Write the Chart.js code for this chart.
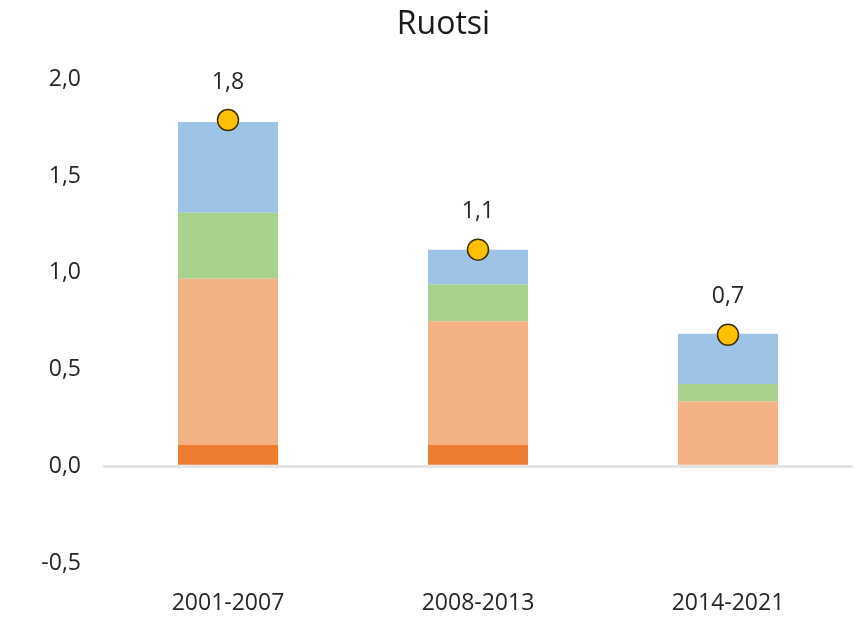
<!DOCTYPE html>
<html>
<head>
<meta charset="utf-8">
<script src="https://cdn.jsdelivr.net/npm/chart.js@4.4.1/dist/chart.umd.min.js"></script>
<style>
  html, body { margin: 0; padding: 0; background: #fff; }
  #wrap { width: 859px; height: 627px; }
</style>
</head>
<body>
<div id="wrap"><canvas id="chart" width="859" height="627"></canvas></div>
<script>
// periods and stacked components
const periods = ['2001-2007', '2008-2013', '2014-2021'];
const partA = [0.11, 0.11, 0.0];   // dark orange
const partB = [0.86, 0.64, 0.335]; // light orange
const partC = [0.34, 0.19, 0.09];  // green
const partD = [0.47, 0.18, 0.26];  // blue
const totals = [1.79, 1.12, 0.68]; // yellow dots
const yTicks = [-0.5, 0, 0.5, 1.0, 1.5, 2.0];

const fmt = v => v.toFixed(1).replace('.', ',');
const FONT = '"Open Sans", sans-serif';

// value labels above the dots
const dotLabels = {
  id: 'dotLabels',
  afterDatasetsDraw(chart) {
    const ctx = chart.ctx;
    const meta = chart.getDatasetMeta(4);
    ctx.save();
    ctx.font = '23px ' + FONT;
    ctx.fillStyle = '#262626';
    ctx.textAlign = 'center';
    ctx.textBaseline = 'middle';
    meta.data.forEach((pt, i) => {
      ctx.fillText(fmt(totals[i]), pt.x, pt.y - 38);
    });
    ctx.restore();
  }
};

const bar = (data, color) => ({
  type: 'bar',
  data: data,
  backgroundColor: color,
  borderWidth: 0,
  barPercentage: 0.4,
  categoryPercentage: 1.0,
  stack: 'parts',
  order: 1
});

new Chart(document.getElementById('chart'), {
  data: {
    labels: periods,
    datasets: [
      bar(partA, '#ED7D31'),
      bar(partB, '#F4B183'),
      bar(partC, '#A9D18E'),
      bar(partD, '#9DC3E6'),
      {
        type: 'line',
        data: totals,
        showLine: false,
        pointRadius: 10.5,
        pointBackgroundColor: '#FFC000',
        pointBorderColor: '#3b3000',
        pointBorderWidth: 1.5,
        stack: 'dots',
        order: 0
      }
    ]
  },
  options: {
    responsive: false,
    animation: false,
    layout: { autoPadding: false, padding: { left: 34, right: 6, top: 6, bottom: 0 } },
    plugins: {
      legend: { display: false },
      tooltip: { enabled: false },
      title: {
        display: true,
        text: 'Ruotsi',
        color: '#1a1a1a',
        font: { family: FONT, size: 32, weight: 'normal' },
        padding: { top: 0, bottom: 35 }
      }
    },
    scales: {
      x: {
        stacked: true,
        afterFit: s => { s.height = 64; },
        grid: { display: false },
        border: { display: false },
        ticks: {
          color: '#262626',
          font: { family: FONT, size: 23 },
          padding: 19
        }
      },
      y: {
        stacked: true,
        min: -0.5,
        max: 2.0,
        afterBuildTicks: s => { s.ticks = yTicks.map(v => ({ value: v })); },
        afterFit: s => { s.width = 69; },
        grid: {
          drawTicks: false,
          color: c => c.tick && c.tick.value === 0 ? '#e4e4e4' : 'rgba(0,0,0,0)',
          lineWidth: 3
        },
        border: { display: false },
        ticks: {
          color: '#262626',
          font: { family: FONT, size: 23 },
          padding: 22,
          callback: v => fmt(v)
        }
      }
    }
  },
  plugins: [dotLabels]
});
</script>
</body>
</html>
